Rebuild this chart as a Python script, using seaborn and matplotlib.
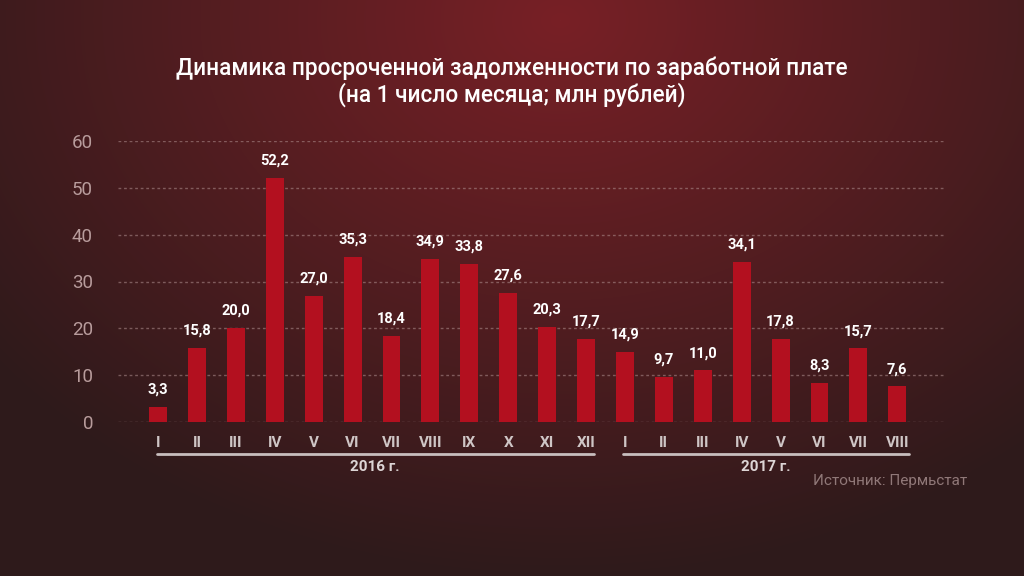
import numpy as np
import pandas as pd
import matplotlib
matplotlib.use("Agg")
import matplotlib.pyplot as plt
import seaborn as sns

# данные: просроченная задолженность на 1 число месяца, млн руб.
months_2016 = ['I', 'II', 'III', 'IV', 'V', 'VI', 'VII', 'VIII', 'IX', 'X', 'XI', 'XII']
values_2016 = [3.3, 15.8, 20.0, 52.2, 27.0, 35.3, 18.4, 34.9, 33.8, 27.6, 20.3, 17.7]
months_2017 = ['I', 'II', 'III', 'IV', 'V', 'VI', 'VII', 'VIII']
values_2017 = [14.9, 9.7, 11.0, 34.1, 17.8, 8.3, 15.7, 7.6]

title = "Динамика просроченной задолженности по заработной плате\n(на 1 число месяца; млн рублей)"
source = "Источник: Пермьстат"

df = pd.DataFrame({
    'key': [f"2016-{m}" for m in months_2016] + [f"2017-{m}" for m in months_2017],
    'month': months_2016 + months_2017,
    'value': values_2016 + values_2017,
})

sns.set_theme(style="white")
plt.rcParams['font.family'] = ['Roboto', 'DejaVu Sans']

fig = plt.figure(figsize=(10.24, 5.76), dpi=100)

# фон: радиальный градиент
bg = fig.add_axes([0, 0, 1, 1])
yy, xx = np.mgrid[0:576, 0:1024]
d = np.sqrt(((xx - 560) / 720.0) ** 2 + ((yy - 20) / 560.0) ** 2)
d = np.clip(d, 0, 1)
c_in = np.array([120, 32, 38]) / 255.0
c_out = np.array([46, 26, 27]) / 255.0
img = c_in[None, None, :] * (1 - d[..., None]) + c_out[None, None, :] * d[..., None]
bg.imshow(img, aspect='auto', extent=[0, 1, 0, 1])
bg.axis('off')

ax = fig.add_axes([118 / 1024, 1 - 422 / 576, 826 / 1024, 281 / 576])
ax.patch.set_alpha(0)
sns.barplot(data=df, x='key', y='value', color='#b3101f', saturation=1, width=0.46,
            linewidth=0, edgecolor='none', ax=ax)

ax.set_ylim(0, 60)
ax.set_xlim(-1.03, 20.2)
ax.set_yticks([0, 10, 20, 30, 40, 50, 60])
ax.set_yticklabels([str(v) for v in [0, 10, 20, 30, 40, 50, 60]], color='#b89c9c', fontsize=13.5)
ax.set_xticks(range(len(df)))
ax.set_xticklabels(df['month'], color='#cfc6c6', fontsize=11, fontweight='bold')
ax.tick_params(axis='both', length=0, pad=10)
ax.tick_params(axis='y', pad=18)
ax.set_xlabel('')
ax.set_ylabel('')
for s in ax.spines.values():
    s.set_visible(False)
ax.set_axisbelow(True)
for v in [0, 10, 20, 30, 40, 50, 60]:
    ax.axhline(v, color='#b09090', lw=1, ls=(0, (2, 2)), alpha=0.55, zorder=0)

for i, v in enumerate(df['value']):
    ax.text(i, v + 2.2, f"{v:.1f}".replace('.', ','), ha='center', va='bottom',
            color='white', fontsize=10.5, fontweight='bold', clip_on=False)

# скобки годов
fig.add_artist(plt.Line2D([157 / 1024, 594 / 1024], [1 - 454 / 576] * 2, color='#c8bebe', lw=2))
fig.add_artist(plt.Line2D([623 / 1024, 909 / 1024], [1 - 454 / 576] * 2, color='#c8bebe', lw=2))
fig.text(375 / 1024, 1 - 467 / 576, "2016 г.", ha='center', va='center', color='#ddd5d5', fontsize=11, fontweight='bold')
fig.text(766 / 1024, 1 - 467 / 576, "2017 г.", ha='center', va='center', color='#ddd5d5', fontsize=11, fontweight='bold')
fig.text(967 / 1024, 1 - 481 / 576, source, ha='right', va='center', color='#907878', fontsize=11)

fig.text(512 / 1024, 1 - 82 / 576, title, ha='center', va='center', color='white',
         fontsize=16.3, fontweight='medium', linespacing=1.12)

fig.savefig('out.png', dpi=100)
